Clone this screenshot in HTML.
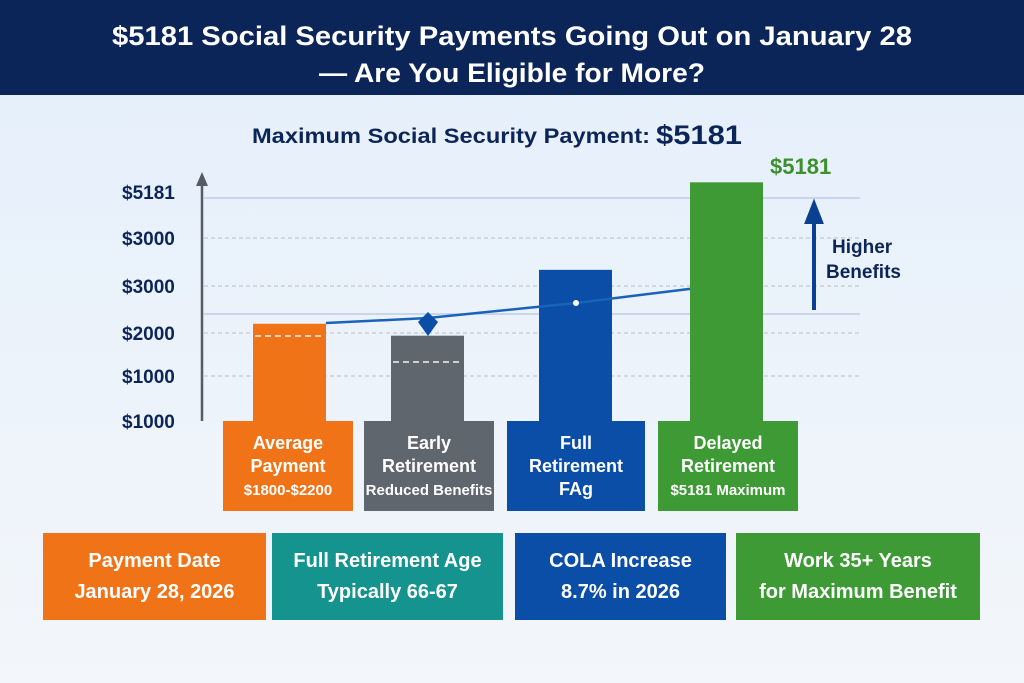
<!DOCTYPE html>
<html><head><meta charset="utf-8"><style>
html,body{margin:0;padding:0;width:1024px;height:683px;overflow:hidden;background:#edf3fb;font-family:"Liberation Sans",sans-serif}
svg text{font-family:"Liberation Sans",sans-serif;font-weight:bold}
</style></head><body>
<svg width="1024" height="683" viewBox="0 0 1024 683">
<defs><linearGradient id="bg" x1="0" y1="0" x2="0" y2="1"><stop offset="0" stop-color="#e6f0fb"/><stop offset="1" stop-color="#f3f6fa"/></linearGradient></defs>
<rect x="0" y="95" width="1024" height="588" fill="url(#bg)"/>
<rect x="0" y="0" width="1024" height="95" fill="#0c2559"/>
<text x="512" y="45" text-anchor="middle" fill="#fff" font-size="27" textLength="800" lengthAdjust="spacingAndGlyphs">$5181 Social Security Payments Going Out on January 28</text>
<text x="512" y="82" text-anchor="middle" fill="#fff" font-size="27" textLength="386" lengthAdjust="spacingAndGlyphs">— Are You Eligible for More?</text>
<text x="252" y="143" fill="#0c2559" font-size="21" textLength="398" lengthAdjust="spacingAndGlyphs">Maximum Social Security Payment:</text>
<text x="656" y="144" fill="#0c2559" font-size="27" textLength="86" lengthAdjust="spacingAndGlyphs">$5181</text>
<g id="plot"></g>
<g id="cards"></g>
</svg>
<script>
const categories=["Average Payment","Early Retirement","Full Retirement","Delayed Retirement"];
const barValues=[2200,1930,3420,5400];
const lineValues=[2217,2330,2670,2990];
const tickValues=[0,1018,1991,3054,4140,5181];
const tickLabels=["$1000","$1000","$2000","$3000","$3000","$5181"];
const barColors=["#f07417","#5f666d","#0b4ea8","#3d9a35"];
const labelLines=[["Average","Payment","$1800-$2200"],["Early","Retirement","Reduced Benefits"],["Full","Retirement","FAg"],["Delayed","Retirement","$5181 Maximum"]];
const cardTitles=["Payment Date","Full Retirement Age","COLA Increase","Work 35+ Years"];
const cardSubs=["January 28, 2026","Typically 66-67","8.7% in 2026","for Maximum Benefit"];
const NS="http://www.w3.org/2000/svg";
const baseY=421,topY=192,maxV=5181;
function y(v){return baseY-(v/maxV)*(baseY-topY);}
const barX=[253,391,539,690],barW=73;
function mk(tag,attrs,parent){const e=document.createElementNS(NS,tag);for(const k in attrs)e.setAttribute(k,attrs[k]);parent.appendChild(e);return e;}
const g=document.getElementById("plot");
// solid light lines
[198,314].forEach(yy=>{const l=mk("line",{x1:204,x2:860,y1:yy,y2:yy,stroke:"#bccde8","stroke-width":1.5},g);

});
tickValues.forEach((v,i)=>{
 if(i>0&&i<5){const l=mk("line",{x1:204,x2:860,y1:y(v),y2:y(v),stroke:"#b8bfca","stroke-width":1,"stroke-dasharray":"4 3"},g);
 
 }
 const t=mk("text",{x:122,y:y(v)+7,"font-size":19,fill:"#0c2559"},g);t.textContent=tickLabels[i];
 
 
});
const ax=mk("path",{d:"M202 421 V180",stroke:"#555b63","stroke-width":2.5,fill:"none"},g);


const ah=mk("path",{d:"M196 186 L202 172 L208 186 Z",fill:"#555b63"},g);


const bx=[223,364,507,658],bw=[130,130,138,140];
categories.forEach((c,i)=>{
 const b=mk("rect",{x:barX[i],y:y(barValues[i]),width:barW,height:baseY-y(barValues[i]),fill:barColors[i]},g);
 
 
 const lb=mk("rect",{x:bx[i],y:421,width:bw[i],height:90,fill:barColors[i]},g);
 
 
 labelLines[i].forEach((s,j)=>{const t=mk("text",{x:bx[i]+bw[i]/2,y:449+j*23,"text-anchor":"middle",fill:"#fff","font-size":(j==2&&s.length>10)?15:18},g);t.textContent=s;
 
 });
});
[[255,336],[393,362]].forEach(p=>{const l=mk("line",{x1:p[0],x2:p[0]+70,y1:p[1],y2:p[1],stroke:"#f2f2f2","stroke-width":1.5,"stroke-dasharray":"6 4"},g);

});
const lx=[326,428,576,690];
const pts=lx.map((x,i)=>x+","+y(lineValues[i])).join(" ");
const pl=mk("polyline",{points:pts,fill:"none",stroke:"#1a63b8","stroke-width":2.5},g);


const dy=y(lineValues[1]);
const dm=mk("path",{d:`M${lx[1]} ${dy+18} L${lx[1]-10} ${dy+4} L${lx[1]} ${dy-6} L${lx[1]+10} ${dy+4} Z`,fill:"#0b4ea8"},g);


const dt=mk("circle",{cx:lx[2],cy:y(lineValues[2]),r:3,fill:"#fff"},g);


const mv=mk("text",{x:770,y:174,fill:"#3d8f30","font-size":22},g);mv.textContent="$5181";


const ar=mk("path",{d:"M814 310 V218 M807 222 L814 204 L821 222 Z",stroke:"#0b3f8f","stroke-width":4,fill:"#0b3f8f"},g);


["Higher","Benefits"].forEach((s,j)=>{const t=mk("text",{x:j?826:832,y:253+j*25,fill:"#0c2559","font-size":19},g);t.textContent=s;

});
const cg=document.getElementById("cards");
const cx=[43,272,515,736],cw=[223,231,211,244],cc=["#f07417","#14938f","#0b4ea8","#3d9a35"];
cardTitles.forEach((s,i)=>{
 const r=mk("rect",{x:cx[i],y:533,width:cw[i],height:87,fill:cc[i]},cg);
 
 
 const t1=mk("text",{x:cx[i]+cw[i]/2,y:567,"text-anchor":"middle",fill:"#fff","font-size":20},cg);t1.textContent=s;
 
 
 const t2=mk("text",{x:cx[i]+cw[i]/2,y:598,"text-anchor":"middle",fill:"#fff","font-size":20},cg);t2.textContent=cardSubs[i];
 
 
});
</script>
</body></html>
